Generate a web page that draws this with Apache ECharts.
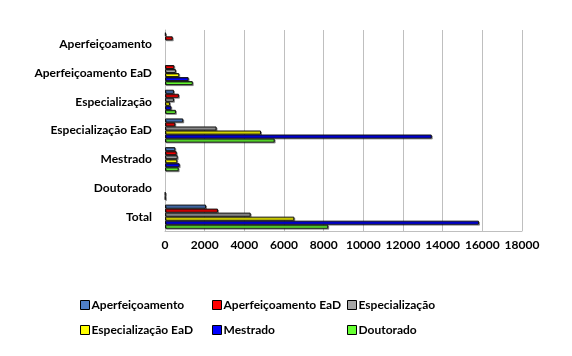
<!DOCTYPE html>
<html><head><meta charset="utf-8">
<script src="https://cdn.jsdelivr.net/npm/echarts@6/dist/echarts.min.js"></script>
<style>html,body{margin:0;padding:0;background:#fff}#c{width:572px;height:356px}</style>
</head><body><div id="c"></div>
<script>
const categories = ['Aperfeiçoamento','Aperfeiçoamento EaD','Especialização','Especialização EaD','Mestrado','Doutorado','Total'];
const seriesNames = ['Aperfeiçoamento','Aperfeiçoamento EaD','Especialização','Especialização EaD','Mestrado','Doutorado'];
const aperfeicoamento   = [40, 0, 450, 920, 520, 0, 2070];
const aperfeicoamentoEaD= [390, 470, 700, 520, 590, 0, 2670];
const especializacao    = [0, 550, 450, 2600, 640, 0, 4320];
const especializacaoEaD = [0, 720, 250, 4840, 620, 0, 6520];
const mestrado          = [0, 1190, 320, 13450, 740, 20, 15830];
const doutorado         = [0, 1400, 550, 5530, 690, 20, 8230];
const xTicks = [0,2000,4000,6000,8000,10000,12000,14000,16000,18000];

const values = [aperfeicoamento, aperfeicoamentoEaD, especializacao, especializacaoEaD, mestrado, doutorado];
const colors = ['#4F7FC8','#FF0000','#A6A6A6','#FFFF00','#0000FF','#66FF33'];
const font = 'Lato, Calibri, sans-serif';

const chart = echarts.init(document.getElementById('c'));
const series = seriesNames.map((n,i)=>({
  name:n, type:'bar', data: values[i].map(v=> v===0 ? null : v),
  barGap:'0%', barCategoryGap:'16%',
  itemStyle:{color:colors[i], borderColor:'#111', borderWidth:1,
    shadowColor:'rgba(0,0,0,0.35)', shadowOffsetX:1, shadowOffsetY:1, shadowBlur:0},
  emphasis:{disabled:true}
}));
const legendText = {fontFamily:font, fontWeight:'bold', fontSize:12, color:'#000', padding:[0,0,0,-3]};
const mkLegend = (names,left)=>({
  data:names, left:left, top:294, orient:'vertical', itemGap:13,
  itemWidth:9, itemHeight:9, icon:'rect', textStyle:legendText,
  itemStyle:{borderColor:'#000', borderWidth:1}, selectedMode:false
});
chart.setOption({
  animation:false,
  grid:{left:165, right:50, top:30, bottom:125},
  legend:[
    mkLegend([seriesNames[0],seriesNames[3]],75),
    mkLegend([seriesNames[1],seriesNames[4]],207),
    mkLegend([seriesNames[2],seriesNames[5]],342)
  ],
  xAxis:{type:'value', min:xTicks[0], max:xTicks[xTicks.length-1], interval:xTicks[1]-xTicks[0],
    axisLine:{show:true, lineStyle:{color:'#BFBFBF'}}, axisTick:{show:false},
    splitLine:{show:true, lineStyle:{color:'#BFBFBF', width:1}},
    axisLabel:{fontFamily:font, fontWeight:'bold', fontSize:12, color:'#000', margin:8,
      formatter: v => String(v)}},
  yAxis:{type:'category', data:categories, inverse:true,
    axisLine:{show:true, lineStyle:{color:'#BFBFBF'}}, axisTick:{show:false},
    axisLabel:{fontFamily:font, fontWeight:'bold', fontSize:12, color:'#000', margin:13}},
  series:series
});
</script></body></html>
